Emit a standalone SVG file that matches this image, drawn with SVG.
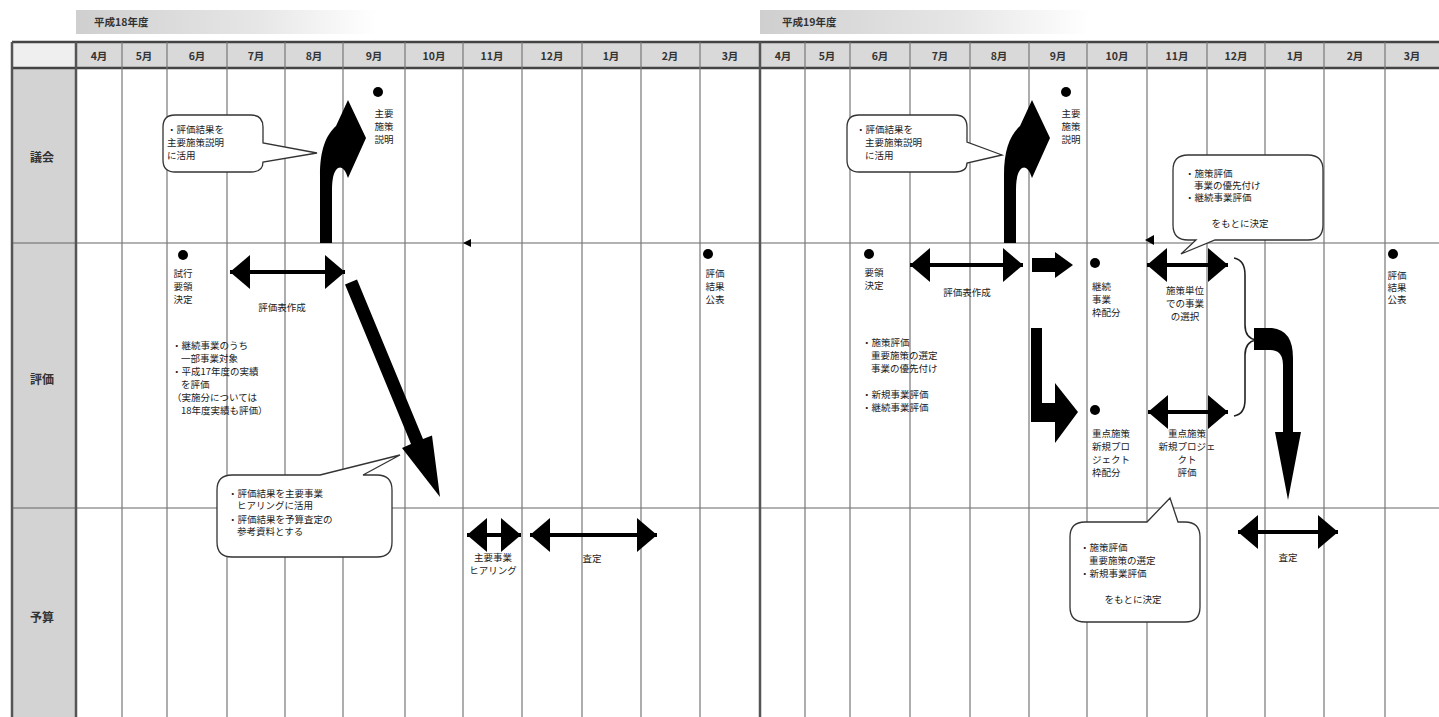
<svg xmlns="http://www.w3.org/2000/svg" width="1439" height="717" viewBox="0 0 1439 717">
<style>
.t{font-family:"Noto Sans CJK JP","Noto Sans",sans-serif;fill:#1a1a1a;}
.s{font-size:9.5px;}
.xs{font-size:9.5px;}
.m{font-size:10.5px;font-weight:bold;fill:#333;}
.lbl{font-size:12px;font-weight:bold;fill:#333;}
.vl{stroke:#777;stroke-width:1.2;}
.vt{stroke:#555;stroke-width:2.5;}
.hl{stroke:#666;stroke-width:1.2;}
.dbl{stroke:#000;stroke-width:4;fill:none;marker-start:url(#ah);marker-end:url(#ah);}
.blk{fill:#000;}
.bub{fill:#fff;stroke:#333;stroke-width:1.3;}
.mid{text-anchor:middle;}
</style>
<defs>
<marker id="ah" viewBox="0 0 20 34" refX="20" refY="17" markerWidth="20" markerHeight="34" markerUnits="userSpaceOnUse" orient="auto-start-reverse">
<path d="M0,0 L20,17 L0,34 z" fill="#000"/>
</marker>
<linearGradient id="yr" x1="0" y1="0" x2="1" y2="0">
<stop offset="0" stop-color="#cfcfcf"/>
<stop offset="0.6" stop-color="#e6e6e6"/>
<stop offset="1" stop-color="#ffffff"/>
</linearGradient>
<path id="curv" d="M0,143 L0,75 C0,50 6,35 16,26 L28,0 L46,38 L28,78 Q24,65 18,68 Q12,72 12,90 L12,143 Z"/>
</defs>
<rect width="1439" height="717" fill="#fff"/>

<!-- year labels -->
<g id="year18">
<rect x="76" y="10" width="300" height="24" fill="url(#yr)"/>
<text class="t m" x="94" y="26">平成18年度</text>
</g>
<g id="year19">
<rect x="760" y="10" width="330" height="24" fill="url(#yr)"/>
<text class="t m" x="782" y="26">平成19年度</text>
</g>

<!-- table background -->
<g id="table">
<rect x="12" y="42" width="1427" height="26" fill="#d9d9d9"/>
<rect x="12" y="42" width="64" height="26" fill="#efefef"/>
<rect x="12" y="68" width="64" height="649" fill="#d3d3d3"/>
<line x1="12" y1="42" x2="1439" y2="42" stroke="#444" stroke-width="2.5"/>
<line x1="12" y1="68" x2="1439" y2="68" stroke="#444" stroke-width="2.5"/>
<line class="hl" x1="12" y1="243" x2="1439" y2="243"/>
<line class="hl" x1="12" y1="508" x2="1439" y2="508"/>
<line class="vt" x1="12" y1="42" x2="12" y2="717"/>
<line class="vt" x1="76" y1="42" x2="76" y2="717"/>
<line class="vt" x1="760" y1="42" x2="760" y2="717"/>
<g class="vl">
<line x1="122" y1="42" x2="122" y2="717"/>
<line x1="167" y1="42" x2="167" y2="717"/>
<line x1="227" y1="42" x2="227" y2="717"/>
<line x1="285" y1="42" x2="285" y2="717"/>
<line x1="343" y1="42" x2="343" y2="717"/>
<line x1="405" y1="42" x2="405" y2="717"/>
<line x1="463" y1="42" x2="463" y2="717"/>
<line x1="522" y1="42" x2="522" y2="717"/>
<line x1="582" y1="42" x2="582" y2="717"/>
<line x1="641" y1="42" x2="641" y2="717"/>
<line x1="700" y1="42" x2="700" y2="717"/>
<line x1="805" y1="42" x2="805" y2="717"/>
<line x1="850" y1="42" x2="850" y2="717"/>
<line x1="910" y1="42" x2="910" y2="717"/>
<line x1="970" y1="42" x2="970" y2="717"/>
<line x1="1029" y1="42" x2="1029" y2="717"/>
<line x1="1087" y1="42" x2="1087" y2="717"/>
<line x1="1147" y1="42" x2="1147" y2="717"/>
<line x1="1207" y1="42" x2="1207" y2="717"/>
<line x1="1265" y1="42" x2="1265" y2="717"/>
<line x1="1324" y1="42" x2="1324" y2="717"/>
<line x1="1385" y1="42" x2="1385" y2="717"/>
</g>
<g class="t m mid">
<text x="99" y="60">4月</text><text x="144" y="60">5月</text><text x="197" y="60">6月</text>
<text x="256" y="60">7月</text><text x="314" y="60">8月</text><text x="374" y="60">9月</text>
<text x="434" y="60">10月</text><text x="492" y="60">11月</text><text x="552" y="60">12月</text>
<text x="611" y="60">1月</text><text x="670" y="60">2月</text><text x="730" y="60">3月</text>
<text x="783" y="60">4月</text><text x="827" y="60">5月</text><text x="880" y="60">6月</text>
<text x="940" y="60">7月</text><text x="999" y="60">8月</text><text x="1058" y="60">9月</text>
<text x="1117" y="60">10月</text><text x="1177" y="60">11月</text><text x="1236" y="60">12月</text>
<text x="1295" y="60">1月</text><text x="1355" y="60">2月</text><text x="1412" y="60">3月</text>
</g>
<g class="t lbl mid">
<text x="42" y="162">議会</text>
<text x="42" y="384">評価</text>
<text x="42" y="622">予算</text>
</g>
</g>

<!-- nodes: 平成18年度 -->
<g id="n-setsumei18">
<circle cx="378" cy="92" r="5" fill="#000"/>
<text class="t xs mid" x="384" y="117">主要</text>
<text class="t xs mid" x="384" y="130">施策</text>
<text class="t xs mid" x="384" y="143">説明</text>
</g>
<g id="n-bubble18a">
<path class="bub" d="M175,115 H251 Q263,115 263,127 V143 L317,153 L263,162 Q263,172 251,172 H175 Q163,172 163,160 V127 Q163,115 175,115 Z"/>
<text class="t xs" x="167" y="133">・評価結果を</text>
<text class="t xs" x="167" y="146">主要施策説明</text>
<text class="t xs" x="167" y="159">に活用</text>
</g>
<g id="n-shikou">
<circle cx="183" cy="255" r="5" fill="#000"/>
<text class="t s mid" x="183" y="277">試行</text>
<text class="t s mid" x="183" y="290">要領</text>
<text class="t s mid" x="183" y="303">決定</text>
</g>
<g id="n-hyoka18">
<text class="t s mid" x="282" y="311">評価表作成</text>
</g>
<g id="n-notes18">
<text class="t s" x="172" y="349">・継続事業のうち</text>
<text class="t s" x="181" y="362">一部事業対象</text>
<text class="t s" x="172" y="375">・平成17年度の実績</text>
<text class="t s" x="181" y="388">を評価</text>
<text class="t s" x="172" y="401">（実施分については</text>
<text class="t s" x="181" y="414">18年度実績も評価）</text>
</g>
<g id="n-kohyo18">
<circle cx="708" cy="254" r="5" fill="#000"/>
<text class="t xs mid" x="715" y="277">評価</text>
<text class="t xs mid" x="715" y="290">結果</text>
<text class="t xs mid" x="715" y="303">公表</text>
</g>
<g id="n-bubble18b">
<path class="bub" d="M232,475 H320 L400,455 L363,475 H377 Q392,475 392,490 V542 Q392,557 377,557 H232 Q217,557 217,542 V490 Q217,475 232,475 Z"/>
<text class="t xs" x="228" y="497">・評価結果を主要事業</text>
<text class="t xs" x="237" y="509">ヒアリングに活用</text>
<text class="t xs" x="228" y="523">・評価結果を予算査定の</text>
<text class="t xs" x="237" y="535">参考資料とする</text>
</g>
<g id="n-hearing">
<text class="t s mid" x="493" y="561">主要事業</text>
<text class="t s mid" x="493" y="574">ヒアリング</text>
</g>
<g id="n-satei18">
<text class="t s mid" x="592" y="562">査定</text>
</g>

<!-- nodes: 平成19年度 -->
<g id="n-setsumei19">
<circle cx="1066" cy="92" r="5" fill="#000"/>
<text class="t xs mid" x="1071" y="117">主要</text>
<text class="t xs mid" x="1071" y="130">施策</text>
<text class="t xs mid" x="1071" y="143">説明</text>
</g>
<g id="n-bubble19a">
<path class="bub" d="M859,115 H955 Q967,115 967,127 V142 L1002,155 L967,163 Q967,172 955,172 H859 Q847,172 847,160 V127 Q847,115 859,115 Z"/>
<text class="t xs" x="856" y="133">・評価結果を</text>
<text class="t xs" x="865" y="146">主要施策説明</text>
<text class="t xs" x="865" y="159">に活用</text>
</g>
<g id="n-bubble19b">
<path class="bub" d="M1188,155 H1308 Q1323,155 1323,170 V225 Q1323,240 1308,240 H1215 L1181,254 L1196,240 H1188 Q1173,240 1173,225 V170 Q1173,155 1188,155 Z"/>
<text class="t xs" x="1185" y="177">・施策評価</text>
<text class="t xs" x="1194" y="189">事業の優先付け</text>
<text class="t xs" x="1185" y="201">・継続事業評価</text>
<text class="t xs mid" x="1240" y="227">をもとに決定</text>
</g>
<g id="n-yoryo">
<circle cx="869" cy="254" r="5" fill="#000"/>
<text class="t s mid" x="874" y="276">要領</text>
<text class="t s mid" x="874" y="289">決定</text>
</g>
<g id="n-hyoka19">
<text class="t s mid" x="967" y="296">評価表作成</text>
</g>
<g id="n-notes19">
<text class="t s" x="862" y="346">・施策評価</text>
<text class="t s" x="871" y="359">重要施策の選定</text>
<text class="t s" x="871" y="372">事業の優先付け</text>
<text class="t s" x="862" y="398">・新規事業評価</text>
<text class="t s" x="862" y="411">・継続事業評価</text>
</g>
<g id="n-keizoku">
<circle cx="1095" cy="263" r="5" fill="#000"/>
<text class="t s" x="1092" y="290">継続</text>
<text class="t s" x="1092" y="303">事業</text>
<text class="t s" x="1092" y="316">枠配分</text>
</g>
<g id="n-sentaku">
<text class="t s mid" x="1185" y="294">施策単位</text>
<text class="t s mid" x="1185" y="307">での事業</text>
<text class="t s mid" x="1185" y="320">の選択</text>
</g>
<g id="n-juten">
<circle cx="1095" cy="410" r="5" fill="#000"/>
<text class="t s" x="1092" y="437">重点施策</text>
<text class="t s" x="1092" y="450">新規プロ</text>
<text class="t s" x="1092" y="463">ジェクト</text>
<text class="t s" x="1092" y="476">枠配分</text>
</g>
<g id="n-juten-hyoka">
<text class="t s mid" x="1187" y="437">重点施策</text>
<text class="t s mid" x="1187" y="450">新規プロジェ</text>
<text class="t s mid" x="1187" y="463">クト</text>
<text class="t s mid" x="1187" y="476">評価</text>
</g>
<g id="n-kohyo19">
<circle cx="1393" cy="254" r="5" fill="#000"/>
<text class="t xs mid" x="1397" y="279">評価</text>
<text class="t xs mid" x="1397" y="291">結果</text>
<text class="t xs mid" x="1397" y="303">公表</text>
</g>
<g id="n-bubble19c">
<path class="bub" d="M1085,522 H1147 L1170,498 L1178,522 H1185 Q1200,522 1200,537 V607 Q1200,622 1185,622 H1085 Q1070,622 1070,607 V537 Q1070,522 1085,522 Z"/>
<text class="t xs" x="1080" y="551">・施策評価</text>
<text class="t xs" x="1089" y="564">重要施策の選定</text>
<text class="t xs" x="1080" y="577">・新規事業評価</text>
<text class="t xs mid" x="1133" y="603">をもとに決定</text>
</g>
<g id="n-satei19">
<text class="t s mid" x="1288" y="561">査定</text>
</g>

<!-- connectors -->
<g id="connectors">
<use href="#curv" x="320" y="100" class="blk"/>
<use href="#curv" x="1004" y="100" class="blk"/>
<polygon class="blk" points="345,284.5 357,279.5 423,439 432,435.5 440,497 402,448 411,444"/>
<line class="dbl" x1="230" y1="272" x2="345" y2="272"/>
<line class="dbl" x1="467" y1="535" x2="521" y2="535"/>
<line class="dbl" x1="530" y1="535" x2="657" y2="535"/>
<line class="dbl" x1="910" y1="265" x2="1023" y2="265"/>
<line class="dbl" x1="1147" y1="265" x2="1228" y2="265"/>
<line class="dbl" x1="1148" y1="412" x2="1228" y2="412"/>
<line class="dbl" x1="1238" y1="532" x2="1338" y2="532"/>
<polygon class="blk" points="1032,258 1055,258 1055,252 1073,265 1055,278 1055,272 1032,272"/>
<polygon class="blk" points="1031,328 1042,328 1042,403 1055,403 1055,383 1078,412 1055,443 1055,422 1031,422"/>
<path d="M1234,258 Q1245,260 1245,275 L1245,325 Q1245,338 1256,340 Q1245,342 1245,355 L1245,400 Q1245,414 1234,416" fill="none" stroke="#222" stroke-width="1.6"/>
<path class="blk" d="M1254,328 L1272,328 Q1293,330 1293,358 L1293,432 L1301,432 L1288,500 L1275,432 L1283,432 L1283,365 Q1283,350 1270,350 L1254,350 Z"/>
<polygon class="blk" points="463,243 471,239 471,247"/>
<polygon class="blk" points="1145,240 1154,235 1154,245"/>
</g>
</svg>
